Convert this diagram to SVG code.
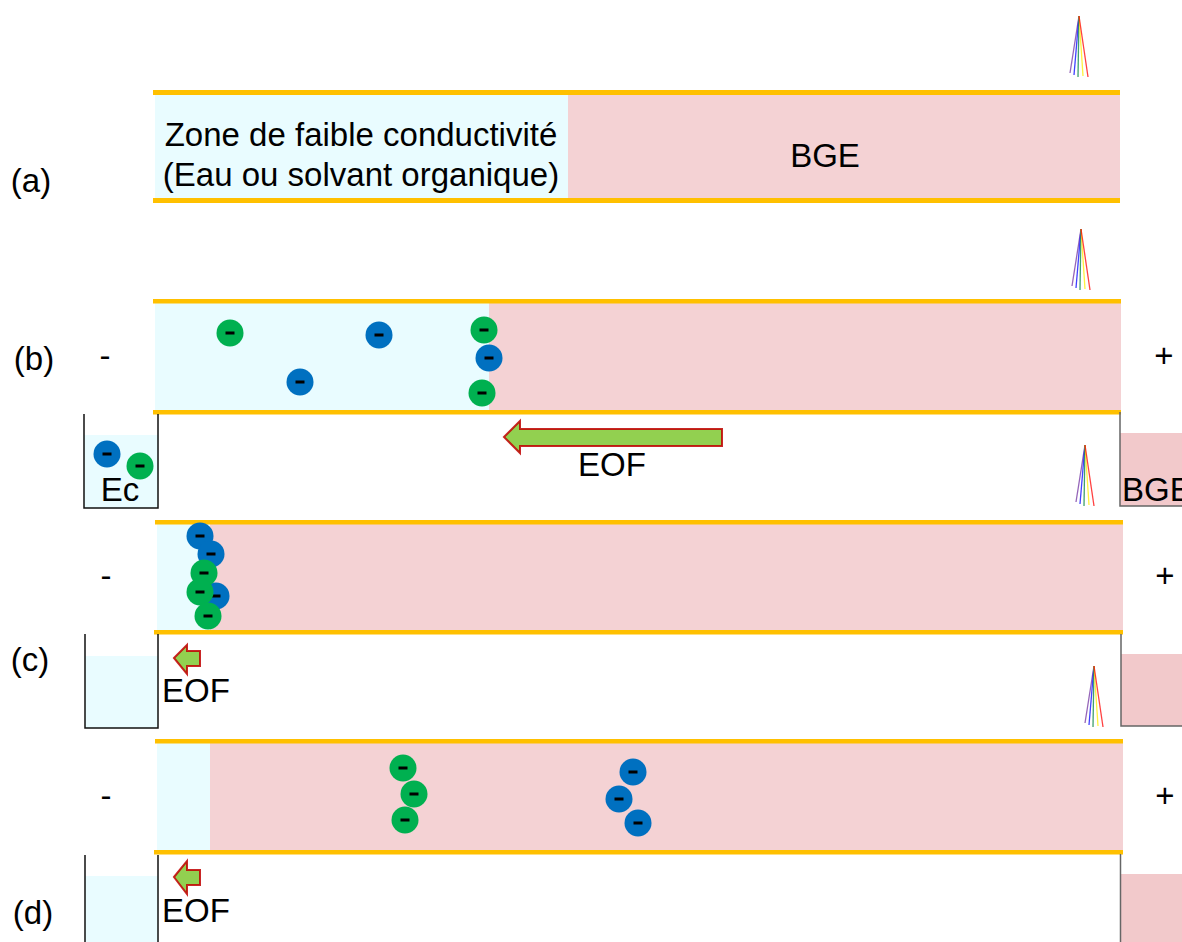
<svg xmlns="http://www.w3.org/2000/svg" width="1182" height="942" viewBox="0 0 1182 942">
<style>
text{font-family:"Liberation Sans",Arial,sans-serif;fill:#000;font-size:33px}
.m{text-anchor:middle}
.lb{fill:#e9fcff}.pk{fill:#f4d2d4}.pk2{fill:#f2c9cb}
.bar{fill:#ffc000}
.bk{fill:none;stroke:#111;stroke-width:1.5}
.b{fill:#0070c0}.g{fill:#00b050}
.sign{fill:none;stroke:#000;stroke-width:3}
.ar{fill:#92d050;stroke:#c00000;stroke-width:2;stroke-opacity:.85}
.s{fill:none;stroke-width:1.3;stroke-opacity:.75}
</style>
<defs>
<g id="ion-b"><circle r="13.500" class="b"/><path d="M-4.500 0H4.500" class="sign"/></g>
<g id="ion-g"><circle r="13.500" class="g"/><path d="M-4.500 0H4.500" class="sign"/></g>
<g id="spectrum">
<path d="M0 0L-9 57" class="s" stroke="#7030a0"/><path d="M0 0L-5 59" class="s" stroke="#0000ff"/><path d="M0 0L-1 61" class="s" stroke="#00803c"/><path d="M0 0L4 60" class="s" stroke="#ffee00"/><path d="M0 0L9 61" class="s" stroke="#ff0000"/>
</g>
</defs>
<g id="panel-a">
<rect class="lb" x="155" y="94" width="413" height="105"/><rect class="pk" x="568" y="94" width="552" height="105"/>
<rect class="bar" x="153" y="90" width="967" height="5"/><rect class="bar" x="153" y="198" width="967" height="5"/>
<text x="361" y="146" class="m">Zone de faible conductivité</text>
<text x="361" y="186" class="m">(Eau ou solvant organique)</text>
<text x="825" y="167" class="m">BGE</text>
<text x="31" y="192" class="m">(a)</text>
<use href="#spectrum" x="1079" y="16"/>
</g>
<g id="panel-b">
<rect class="lb" x="155" y="303" width="334" height="107"/><rect class="pk" x="489" y="303" width="632" height="107"/>
<rect class="bar" x="153" y="299" width="968" height="4.500"/><rect class="bar" x="153" y="410" width="968" height="4.500"/>
<text x="34" y="370" class="m">(b)</text><text x="105" y="367" class="m">-</text><text x="1164" y="367" class="m">+</text>
<use href="#spectrum" x="1081" y="229"/>
<use href="#ion-g" x="230" y="333"/><use href="#ion-b" x="379" y="335"/><use href="#ion-b" x="300" y="382"/><use href="#ion-g" x="484" y="330"/><use href="#ion-b" x="489" y="358"/><use href="#ion-g" x="482" y="393"/>
</g>
<g id="beakers-b">
<rect class="lb" x="84" y="435" width="74" height="73"/><path class="bk" d="M84 414V508H158V414"/>
<use href="#ion-b" x="107" y="454"/><use href="#ion-g" x="140" y="466"/>
<text x="120" y="501" class="m">Ec</text>
<rect class="pk2" x="1120" y="433" width="62" height="73"/><path d="M1120 412V506H1182" fill="none" stroke="#666" stroke-width="1.500"/>
<text x="1122" y="501">BGE</text>
</g>
<g id="arrow-b"><path class="ar" d="M504 437L520 421V429H722V446H520V453Z"/><text x="612" y="476" class="m">EOF</text></g>
<g id="panel-c">
<rect class="lb" x="157" y="524" width="53" height="106"/><rect class="pk" x="210" y="524" width="913" height="106"/>
<rect class="bar" x="155" y="520" width="968" height="4.500"/><rect class="bar" x="154" y="630" width="969" height="4.500"/>
<text x="106" y="587" class="m">-</text><text x="1165" y="587" class="m">+</text><text x="30" y="671" class="m">(c)</text>
<use href="#spectrum" x="1085" y="445"/>
<use href="#ion-b" x="200" y="536"/><use href="#ion-b" x="211" y="554"/><use href="#ion-b" x="216" y="596"/><use href="#ion-g" x="204" y="573"/><use href="#ion-g" x="200" y="592"/><use href="#ion-g" x="208" y="616"/>
</g>
<g id="beakers-c">
<rect class="lb" x="85" y="656" width="73" height="72"/><path class="bk" d="M85 634V728H158V634"/>
<rect class="pk2" x="1121" y="654" width="61" height="72"/><path d="M1121 634V726H1182" fill="none" stroke="#666" stroke-width="1.500"/>
</g>
<g id="arrow-c"><path class="ar" d="M174 658L187 645V651H200V666H187V674Z"/><text x="196" y="702" class="m">EOF</text></g>
<g id="panel-d">
<rect class="lb" x="157" y="743" width="53" height="107"/><rect class="pk" x="210" y="743" width="913" height="107"/>
<rect class="bar" x="155" y="739" width="968" height="4.500"/><rect class="bar" x="154" y="850" width="969" height="4.500"/>
<text x="106" y="807" class="m">-</text><text x="1165" y="807" class="m">+</text><text x="33" y="924" class="m">(d)</text>
<use href="#spectrum" x="1094" y="666"/>
<use href="#ion-g" x="403" y="768"/><use href="#ion-g" x="414" y="794"/><use href="#ion-g" x="405" y="820"/><use href="#ion-b" x="633" y="772"/><use href="#ion-b" x="619" y="799"/><use href="#ion-b" x="638" y="823"/>
</g>
<g id="beakers-d">
<rect class="lb" x="85" y="876" width="73" height="66"/><path class="bk" d="M85 855V942M158 855V942"/>
<rect class="pk2" x="1121" y="874" width="61" height="68"/><path d="M1120.500 854V942" fill="none" stroke="#666" stroke-width="1.500"/>
</g>
<g id="arrow-d"><path class="ar" d="M174 877L187 861V870H200V885H187V894Z"/><text x="196" y="922" class="m">EOF</text></g>
</svg>
